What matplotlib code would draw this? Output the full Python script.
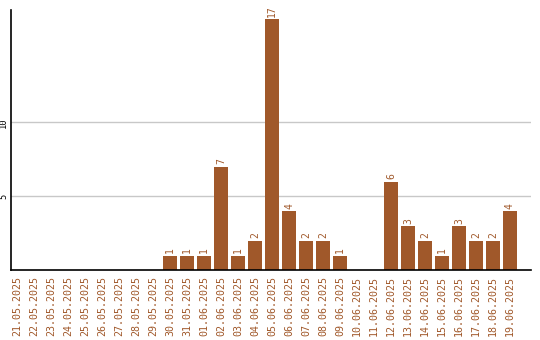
import matplotlib
matplotlib.use("Agg")
import matplotlib.pyplot as plt
import numpy as np

dates = ["21.05.2025", "22.05.2025", "23.05.2025", "24.05.2025", "25.05.2025",
         "26.05.2025", "27.05.2025", "28.05.2025", "29.05.2025", "30.05.2025",
         "31.05.2025", "01.06.2025", "02.06.2025", "03.06.2025", "04.06.2025",
         "05.06.2025", "06.06.2025", "07.06.2025", "08.06.2025", "09.06.2025",
         "10.06.2025", "11.06.2025", "12.06.2025", "13.06.2025", "14.06.2025",
         "15.06.2025", "16.06.2025", "17.06.2025", "18.06.2025", "19.06.2025"]
counts = [0, 0, 0, 0, 0, 0, 0, 0, 0, 1,
          1, 1, 7, 1, 2, 17, 4, 2, 2, 1,
          0, 0, 6, 3, 2, 1, 3, 2, 2, 4]
y_ticks = [5, 10]

BAR = "#A0582A"
MONO = "DejaVu Sans Mono"

fig = plt.figure(figsize=(5.4, 3.4), dpi=100)
ax = fig.add_axes([11 / 540, 1 - 270.3 / 340, (530.7 - 11) / 540, 260 / 340])

x = np.arange(len(dates))
ax.bar(x, counts, width=0.82, color=BAR, zorder=2)
for xi, v in zip(x, counts):
    if v > 0:
        ax.text(xi, v + 0.15, str(v), rotation=90, ha="center", va="bottom",
                fontsize=7, family=MONO, color=BAR)

ax.set_xlim(-0.38, 30.22)
ax.set_ylim(0, 17.57)
ax.set_xticks(x)
ax.set_xticklabels(dates, rotation=90, fontsize=7.2, family=MONO, color=BAR)
ax.set_yticks(y_ticks)
ax.set_yticklabels([str(t) for t in y_ticks], rotation=90, fontsize=6.3,
                   family=MONO, va="center")
ax.tick_params(length=0, pad=2)
ax.tick_params(axis="x", pad=4)
ax.grid(True, axis="y", color="#c8c8c8", lw=1, zorder=0)
for s in ("top", "right"):
    ax.spines[s].set_visible(False)
ax.spines["left"].set_linewidth(1.2)
ax.spines["bottom"].set_linewidth(1.2)

fig.savefig("out.png", dpi=100)
